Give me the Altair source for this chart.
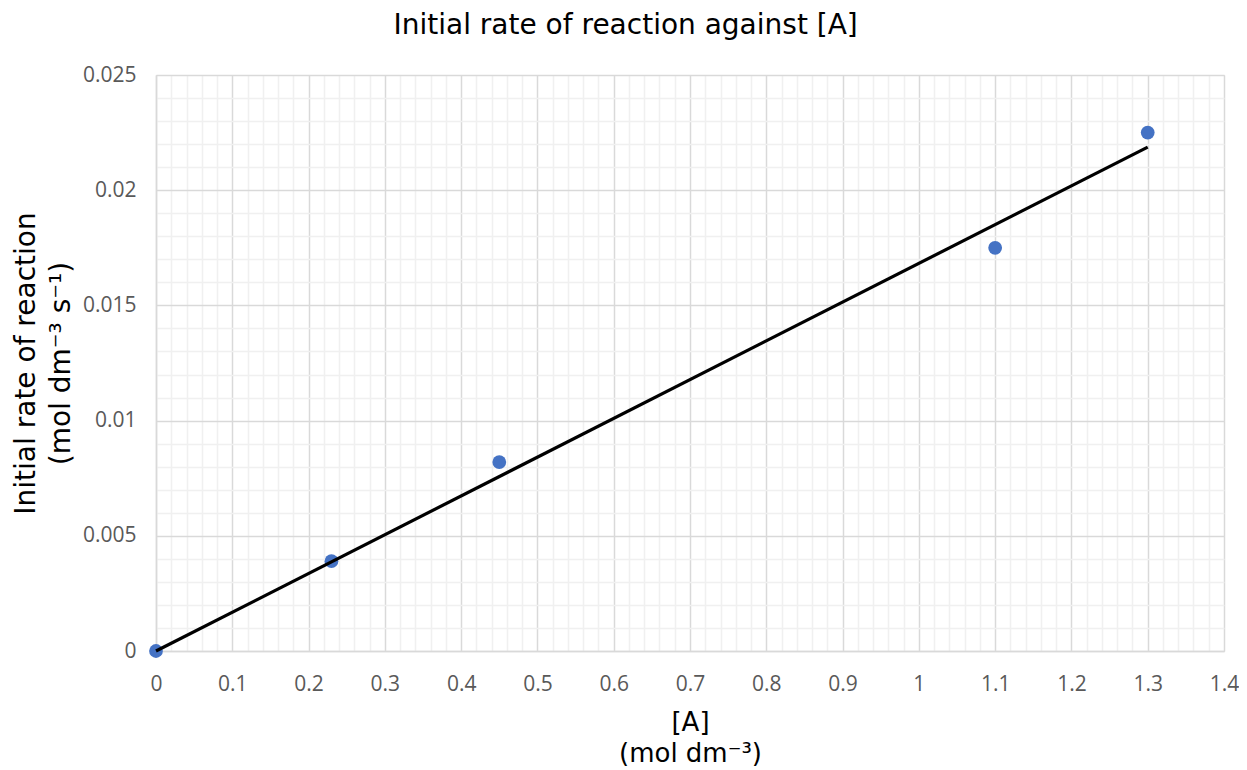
import altair as alt
import pandas as pd
import numpy as np

conc = [0.0, 0.23, 0.45, 1.1, 1.3]
rate = [0.0, 0.0039, 0.0082, 0.0175, 0.0225]

x_ticks = [round(i * 0.02, 2) for i in range(0, 71)]
y_ticks = [round(i * 0.001, 3) for i in range(0, 26)]

df = pd.DataFrame({"conc": conc, "rate": rate})

# trendline through origin (least squares, zero intercept)
cx = np.array(conc)
ry = np.array(rate)
slope = float((cx * ry).sum() / (cx * cx).sum())
trend = pd.DataFrame({"conc": [0.0, max(conc)], "rate": [0.0, slope * max(conc)]})

major_x = "abs(datum.value*10 - round(datum.value*10)) < 0.0001"
major_y = "abs(datum.value*200 - round(datum.value*200)) < 0.0001"

x_axis = alt.Axis(
    values=x_ticks,
    labelExpr=f"({major_x}) ? format(datum.value, '~g') : ''",
    gridColor={"condition": {"test": major_x, "value": "#d9d9d9"}, "value": "#f0f0f0"},
    gridWidth=1.5,
    ticks=False,
    domainColor="#d9d9d9",
    domainWidth=1.5,
    labelOverlap=False,
    labelFlush=False,
    labelFont="Open Sans",
    labelFontSize=21,
    labelColor="#595959",
    labelPadding=22,
    title=["[A]", "(mol dm⁻³)"],
    titleFont="DejaVu Sans",
    titleFontSize=26,
    titleFontWeight="normal",
    titleColor="#000000",
    titlePadding=15,
    titleLineHeight=31,
)

y_axis = alt.Axis(
    values=y_ticks,
    labelExpr=f"({major_y}) ? format(datum.value, '~g') : ''",
    gridColor={"condition": {"test": major_y, "value": "#d9d9d9"}, "value": "#f0f0f0"},
    gridWidth=1.5,
    ticks=False,
    domainColor="#d9d9d9",
    domainWidth=1.5,
    labelOverlap=False,
    labelFlush=False,
    labelFont="Open Sans",
    labelFontSize=21,
    labelColor="#595959",
    labelPadding=20,
    title=["Initial rate of reaction", "(mol dm⁻³ s⁻¹)"],
    titleFont="DejaVu Sans",
    titleFontSize=28,
    titleFontWeight="normal",
    titleColor="#000000",
    titlePadding=7,
    titleLineHeight=35,
)

x_enc = alt.X("conc:Q", scale=alt.Scale(domain=[0, 1.4], nice=False), axis=x_axis)
y_enc = alt.Y("rate:Q", scale=alt.Scale(domain=[0, 0.025], nice=False), axis=y_axis)

points = alt.Chart(df).mark_circle(size=190, color="#4472C4", opacity=1).encode(x=x_enc, y=y_enc)
line = alt.Chart(trend).mark_line(color="#000000", strokeWidth=3.2).encode(x=x_enc, y=y_enc)

chart = alt.layer(points, line).properties(
    width=1068,
    height=576,
    title=alt.TitleParams(
        "Initial rate of reaction against [A]",
        font="DejaVu Sans",
        fontSize=28,
        fontWeight="normal",
        color="#000000",
        anchor="middle",
        frame="bounds",
        offset=24,
    ),
    padding={"left": 148, "top": 67, "right": 15, "bottom": 116},
    autosize="none",
).configure_view(stroke=None).configure(background="#ffffff")

chart.save("out.html", embed_options={"renderer": "svg", "actions": False})
